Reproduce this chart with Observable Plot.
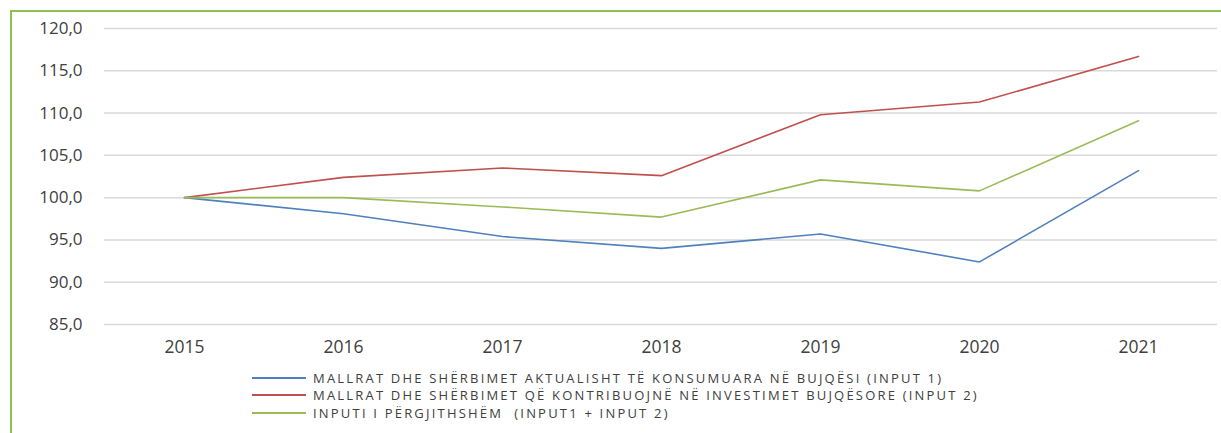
<!DOCTYPE html>
<html>
<head>
<meta charset="utf-8">
<script src="https://cdn.jsdelivr.net/npm/d3@7"></script>
<script src="https://cdn.jsdelivr.net/npm/@observablehq/plot@0.6"></script>
<style>
  html, body { margin: 0; padding: 0; background: #fff; }
  #wrap { position: relative; width: 1221px; height: 433px; overflow: hidden; font-family: "Open Sans", sans-serif; }
  #frame { position: absolute; left: 10px; top: 10px; width: 1220px; height: 430px; border-top: 2px solid #92c050; border-left: 2px solid #92c050; box-sizing: border-box; }
  #chart { position: absolute; left: 0; top: 0; }
  #legend { position: absolute; left: 252px; top: 369px; font-size: 13px; color: #404040; letter-spacing: 2.2px; }
  .row { display: flex; align-items: center; height: 17.5px; white-space: pre; }
  .sw { display: inline-block; width: 54px; height: 2px; margin-right: 7px; }
</style>
</head>
<body>
<div id="wrap">
  <div id="frame"></div>
  <div id="chart"></div>
  <div id="legend"></div>
</div>
<script>
const years = ["2015", "2016", "2017", "2018", "2019", "2020", "2021"];
const seriesNames = [
  "MALLRAT DHE SHËRBIMET AKTUALISHT TË KONSUMUARA NË BUJQËSI (INPUT 1)",
  "MALLRAT DHE SHËRBIMET QË KONTRIBUOJNË NË INVESTIMET BUJQËSORE (INPUT 2)",
  "INPUTI I PËRGJITHSHËM  (INPUT1 + INPUT 2)"
];
const input1 = [100.0, 98.1, 95.4, 94.0, 95.7, 92.4, 103.2];
const input2 = [100.0, 102.4, 103.5, 102.6, 109.8, 111.3, 116.7];
const total = [100.0, 100.0, 98.9, 97.7, 102.1, 100.8, 109.1];
const colors = ["#4f81bd", "#c0504d", "#9bbb59"];
const yTicks = [85, 90, 95, 100, 105, 110, 115, 120];

const allSeries = [input1, input2, total];
const data = [];
allSeries.forEach((vals, s) => {
  years.forEach((y, i) => data.push({ year: y, value: vals[i], series: seriesNames[s] }));
});

const fmt = v => v.toFixed(1).replace(".", ",");

const chart = Plot.plot({
  width: 1221,
  height: 365,
  marginLeft: 104,
  marginRight: 4,
  marginTop: 28,
  marginBottom: 41,
  style: { fontFamily: "Open Sans, sans-serif", color: "#404040", background: "transparent" },
  x: { type: "point", domain: years, padding: 0.5, label: null },
  y: { domain: [85, 120], label: null },
  color: { domain: seriesNames, range: colors },
  marks: [
    Plot.gridY(yTicks, { stroke: "#d9d9d9", strokeOpacity: 1, strokeWidth: 1.5 }),
    Plot.axisY(yTicks, { tickSize: 0, tickPadding: 22, tickFormat: fmt, fontSize: 17, label: null, fill: "#404040", style: "letter-spacing:2px" }),
    Plot.axisX({ tickSize: 0, tickPadding: 16, fontSize: 17.5, label: null, fill: "#404040", style: "letter-spacing:2.3px" }),
    Plot.lineY(data, { x: "year", y: "value", stroke: "series", strokeWidth: 1.6 })
  ]
});
document.getElementById("chart").appendChild(chart);

const legend = document.getElementById("legend");
seriesNames.forEach((name, i) => {
  const row = document.createElement("div");
  row.className = "row";
  const sw = document.createElement("span");
  sw.className = "sw";
  sw.style.background = colors[i];
  const t = document.createElement("span");
  t.textContent = name;
  row.appendChild(sw);
  row.appendChild(t);
  legend.appendChild(row);
});
</script>
</body>
</html>
